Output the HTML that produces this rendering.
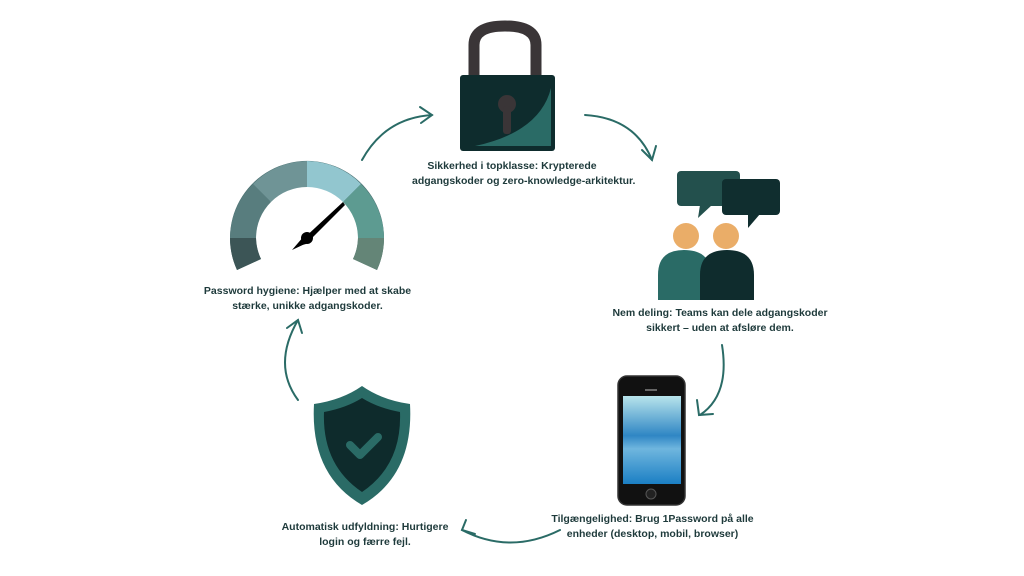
<!DOCTYPE html><html><head><style>
body{margin:0;background:#fff;width:1024px;height:576px;overflow:hidden;position:relative;font-family:"Liberation Sans",sans-serif}
.t{position:absolute;font-size:10.5px;font-weight:bold;color:#1e3a3b;text-align:center;line-height:15px;white-space:nowrap}
</style></head><body>
<svg width="1024" height="576" style="position:absolute;left:0;top:0">
<defs>
<linearGradient id="scr" x1="0" y1="0" x2="0" y2="1"><stop offset="0" stop-color="#b8e4ec"/><stop offset=".45" stop-color="#2f86c4"/><stop offset=".6" stop-color="#6fb6de"/><stop offset="1" stop-color="#1b7fc4"/></linearGradient>
</defs>
<!-- lock -->
<path d="M474 80 V45 Q474 26 505 26 Q536 26 536 45 V80" fill="none" stroke="#3a3537" stroke-width="11"/>
<rect x="460" y="75" width="95" height="76" rx="3" fill="#0e2c2d"/>
<path d="M551 88 Q540 132 475 146 L551 146 Z" fill="#2a6b66"/>
<circle cx="507" cy="104" r="9" fill="#3a3537"/><rect x="503" y="106" width="8" height="28" rx="3" fill="#3a3537"/>
<!-- gauge -->
<g transform="translate(307,238)">
<path d="M-70 32 A77 77 0 1 1 70 32 L46 21 A51 51 0 1 0 -46 21 Z" fill="#4a6f70"/>
<path d="M-77 0 A77 77 0 0 1 -54 -54 L-36 -36 A51 51 0 0 0 -51 0Z" fill="#587d7e"/>
<path d="M-54 -54 A77 77 0 0 1 0 -77 L0 -51 A51 51 0 0 0 -36 -36Z" fill="#6f9496"/>
<path d="M0 -77 A77 77 0 0 1 54 -54 L36 -36 A51 51 0 0 0 0 -51Z" fill="#92c6cf"/>
<path d="M54 -54 A77 77 0 0 1 77 0 L51 0 A51 51 0 0 0 36 -36Z" fill="#5d9b91"/>
<path d="M77 0 A77 77 0 0 1 70 32 L46 21 A51 51 0 0 0 51 0Z" fill="#648577"/>
<path d="M-77 0 A77 77 0 0 0 -70 32 L-46 21 A51 51 0 0 1 -51 0Z" fill="#3c5556"/>
</g>
<polygon points="343,202 302,240 298,246 306,244 345,205" fill="#000"/>
<circle cx="307" cy="238" r="6" fill="#000"/><polygon points="292,250 304,236 309,242" fill="#000"/>
<!-- people -->
<rect x="677" y="171" width="63" height="35" rx="4" fill="#23504d"/><polygon points="700,205 712,205 698,218" fill="#23504d"/>
<rect x="722" y="179" width="58" height="36" rx="4" fill="#102e2f"/><polygon points="748,214 760,214 748,228" fill="#102e2f"/>
<rect x="732" y="179" width="8" height="27" fill="#102e2f"/>
<circle cx="686" cy="236" r="13" fill="#eaad68"/><circle cx="726" cy="236" r="13" fill="#eaad68"/>
<path d="M658 300 V275 Q658 250 684 250 Q711 250 711 275 V300Z" fill="#2a6b66"/>
<path d="M700 300 V275 Q700 250 727 250 Q754 250 754 275 V300Z" fill="#0f2c2d"/>
<!-- phone -->
<rect x="618" y="376" width="67" height="129" rx="9" fill="#111" stroke="#333" stroke-width="1.5"/>
<rect x="623" y="396" width="58" height="88" fill="url(#scr)"/>
<rect x="645" y="389" width="12" height="2" fill="#666"/>
<circle cx="651" cy="494" r="5" fill="#222" stroke="#555"/>
<!-- shield -->
<path d="M362 386 Q382 400 410 404 Q414 475 362 505 Q310 475 314 404 Q342 400 362 386Z" fill="#2a6b66"/>
<path d="M362 398 Q378 408 400 412 Q402 465 362 492 Q322 465 324 412 Q346 408 362 398Z" fill="#0e2b2c"/>
<path d="M350 445 L360 455 L378 437" fill="none" stroke="#2a6b66" stroke-width="8" stroke-linecap="round" stroke-linejoin="round"/>
<!-- arrows -->
<g fill="none" stroke="#2a6b66" stroke-width="2" stroke-linecap="round">
<path d="M362 160 Q385 118 432 115"/><path d="M420 107 L432 115 L421 123"/>
<path d="M585 115 Q635 118 652 160"/><path d="M642 150 L652 160 L656 146"/>
<path d="M722 345 Q730 395 700 415"/><path d="M697 400 L699 415 L713 414"/>
<path d="M560 530 Q510 555 462 530"/><path d="M466 520 L462 530 L475 534"/>
<path d="M298 400 Q272 365 298 320"/><path d="M287 328 L298 320 L302 333"/>
</g>
</svg>
<div class="t" style="left:412px;top:159px;width:200px">Sikkerhed i topklasse: Krypterede<br>adgangskoder og zero-knowledge-arkitektur.</div>
<div class="t" style="left:190px;top:284px;width:235px">Password hygiene: Hjælper med at skabe<br>stærke, unikke adgangskoder.</div>
<div class="t" style="left:600px;top:306px;width:240px">Nem deling: Teams kan dele adgangskoder<br>sikkert – uden at afsløre dem.</div>
<div class="t" style="left:540px;top:512px;width:225px">Tilgængelighed: Brug 1Password på alle<br>enheder (desktop, mobil, browser)</div>
<div class="t" style="left:270px;top:520px;width:190px">Automatisk udfyldning: Hurtigere<br>login og færre fejl.</div>
</body></html>
